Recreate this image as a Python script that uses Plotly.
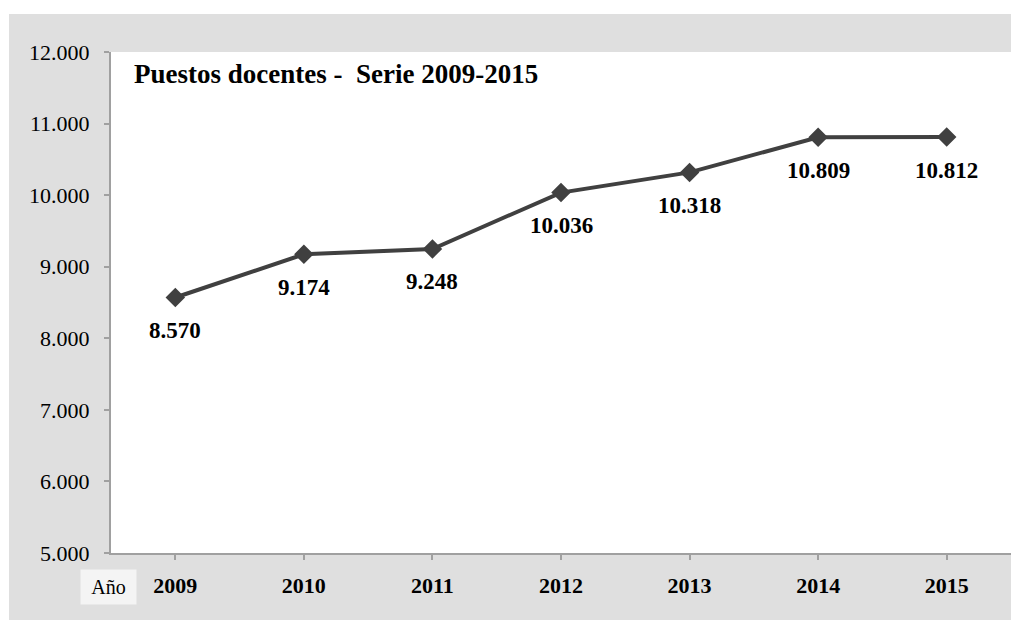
import plotly.graph_objs as go

# Data
years = ["2009", "2010", "2011", "2012", "2013", "2014", "2015"]
puestos = [8570, 9174, 9248, 10036, 10318, 10809, 10812]
y_ticks = [5000, 6000, 7000, 8000, 9000, 10000, 11000, 12000]

line_color = "#404040"
axis_color = "#a0a0a0"
serif = "Liberation Serif, Times New Roman, serif"

# figure size (page has an 8px body margin) and plot area in figure pixels
FW, FH = 1011, 612
L, R, T, B = 103, 1003, 44, 545
W, H = R - L, B - T

x_pos = list(range(len(years)))

fig = go.Figure()
fig.add_trace(go.Scatter(
    x=x_pos,
    y=puestos,
    mode="lines+markers",
    line=dict(color=line_color, width=4),
    marker=dict(symbol="diamond", size=15, color=line_color),
    showlegend=False,
    hoverinfo="skip",
))

# value labels under each point
for xi, v in zip(x_pos, puestos):
    fig.add_annotation(
        x=xi, y=v, xref="x", yref="y",
        text="<b>" + f"{v:,}".replace(",", ".") + "</b>",
        showarrow=False, yshift=-33,
        font=dict(family=serif, size=23, color="black"),
    )

# chart title inside the plot area
fig.add_annotation(
    x=(124 - L) / W, y=(B - 66) / H, xref="paper", yref="paper",
    xanchor="left", yanchor="middle",
    text="<b>Puestos docentes -  Serie 2009-2015</b>",
    showarrow=False,
    font=dict(family=serif, size=27, color="black"),
)

# "Año" label box
fig.add_annotation(
    x=(100 - L) / W, y=(B - 579) / H, xref="paper", yref="paper",
    xanchor="center", yanchor="middle",
    text="Año", showarrow=False,
    width=53, height=32, bgcolor="#f4f4f4",
    font=dict(family=serif, size=20, color="black"),
)

# white strips outside the gray frame
fig.add_shape(type="rect", xref="paper", yref="paper",
              x0=-0.2, x1=(1 - L) / W, y0=-0.2, y1=1.2,
              fillcolor="white", line=dict(width=0), layer="below")
fig.add_shape(type="rect", xref="paper", yref="paper",
              x0=-0.2, x1=1.2, y0=(B - 6) / H, y1=1.2,
              fillcolor="white", line=dict(width=0), layer="below")

fig.update_layout(
    width=FW,
    height=FH,
    margin=dict(l=L, r=FW - R, t=T, b=FH - B),
    paper_bgcolor="#dfdfdf",
    plot_bgcolor="white",
    separators=",.",
    xaxis=dict(
        range=[-0.5, 6.5],
        tickvals=x_pos,
        ticktext=["<b>" + y + "</b>" for y in years],
        showgrid=False, zeroline=False,
        showline=True, linecolor=axis_color, linewidth=2,
        ticks="outside", ticklen=5, tickcolor=axis_color, tickwidth=2,
        ticklabelstandoff=7,
        tickfont=dict(family=serif, size=22, color="black"),
    ),
    yaxis=dict(
        range=[5000, 12000],
        tickvals=y_ticks,
        tickformat=",d",
        showgrid=False, zeroline=False,
        showline=True, linecolor=axis_color, linewidth=2,
        ticks="outside", ticklen=5, tickcolor=axis_color, tickwidth=2,
        ticklabelstandoff=10,
        tickfont=dict(family=serif, size=22, color="black"),
    ),
)

fig.write_html("out.html")
